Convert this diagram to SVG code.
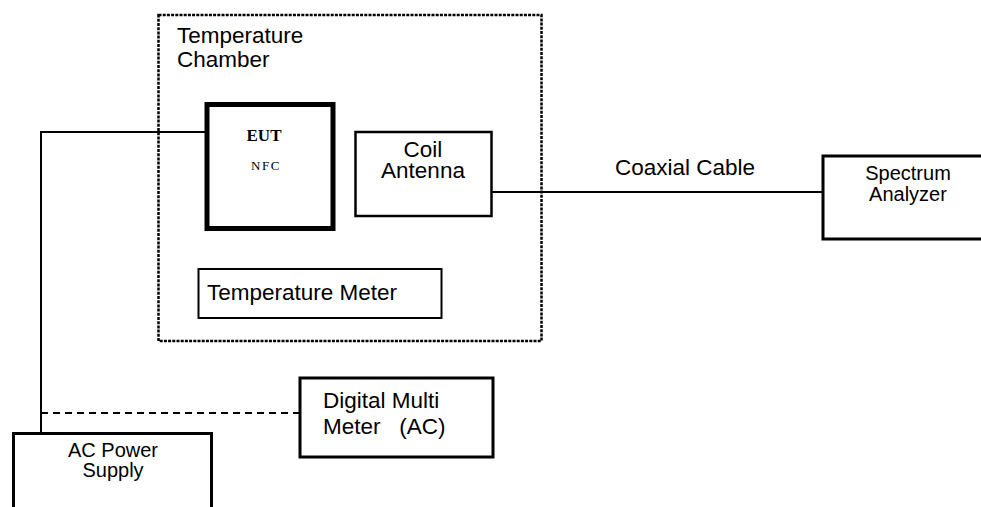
<svg xmlns="http://www.w3.org/2000/svg" width="981" height="507" viewBox="0 0 981 507">
<style>
.t{font-family:"Liberation Sans",Arial,sans-serif;font-size:22.5px;fill:#000}
.s{font-family:"Liberation Sans",Arial,sans-serif;font-size:20px;fill:#000}
.box{fill:#fff;stroke:#000}
.w{stroke:#000;stroke-width:2;fill:none}
</style>
<rect width="981" height="507" fill="#fff"/>
<g id="chamber">
<rect x="158.5" y="15" width="383" height="326" fill="none" stroke="#000" stroke-width="2.5" stroke-dasharray="3 1.2"/>
<text class="t" x="177" y="43">Temperature</text>
<text class="t" x="177" y="67">Chamber</text>
</g>
<g id="connectors">
<polyline class="w" points="207,132 41,132 41,433"/>
<line class="w" x1="492" y1="192" x2="822" y2="192"/>
<line x1="41" y1="413" x2="299" y2="413" stroke="#000" stroke-width="2" stroke-dasharray="7 5"/>
<text class="t" x="685" y="175" text-anchor="middle">Coaxial Cable</text>
</g>
<g id="eut">
<rect class="box" x="207" y="104.5" width="126" height="124" stroke-width="5"/>
<text x="264" y="141" text-anchor="middle" font-family="'Liberation Serif',serif" font-weight="bold" font-size="17">EUT</text>
<text x="266" y="170" text-anchor="middle" font-family="'Liberation Serif',serif" font-size="13" letter-spacing="1.5">NFC</text>
</g>
<g id="coil">
<rect class="box" x="355.5" y="132" width="136" height="84" stroke-width="2.5"/>
<text class="t" x="423" y="157" text-anchor="middle">Coil</text>
<text class="t" x="423" y="178" text-anchor="middle">Antenna</text>
</g>
<g id="meter">
<rect class="box" x="198.5" y="269" width="243" height="49" stroke-width="2"/>
<text class="t" x="207" y="300">Temperature Meter</text>
</g>
<g id="analyzer">
<rect class="box" x="823" y="156" width="170" height="83" stroke-width="3"/>
<text class="s" x="908" y="180" text-anchor="middle">Spectrum</text>
<text class="s" x="908" y="201" text-anchor="middle">Analyzer</text>
</g>
<g id="dmm">
<rect class="box" x="300" y="378" width="193" height="79" stroke-width="3"/>
<text class="t" x="323" y="408">Digital Multi</text>
<text class="t" x="323" y="434" xml:space="preserve">Meter   (AC)</text>
</g>
<g id="power">
<rect class="box" x="13.5" y="433.5" width="198" height="90" stroke-width="3"/>
<text class="s" x="113" y="457" text-anchor="middle">AC Power</text>
<text class="s" x="113" y="477" text-anchor="middle">Supply</text>
</g>
</svg>
